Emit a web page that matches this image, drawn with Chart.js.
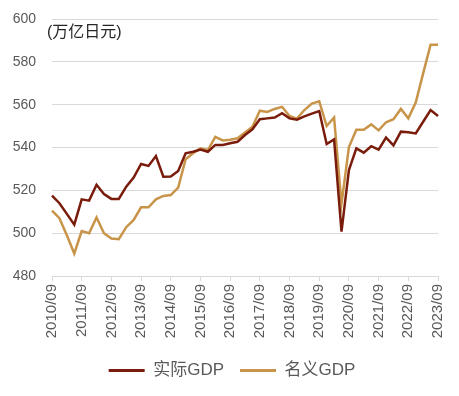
<!DOCTYPE html>
<html>
<head>
<meta charset="utf-8">
<script src="https://cdn.jsdelivr.net/npm/chart.js@4"></script>
<style>
  html, body { margin: 0; padding: 0; background: #fff; }
  #wrap { position: relative; width: 459px; height: 396px; }
</style>
</head>
<body>
<div id="wrap"><canvas id="gdp" width="459" height="396"></canvas></div>
<script>
const $ = sel => document.querySelector(sel);

/* ============ DATA ============== */
const quarters = [];
for (let y = 2010; y <= 2023; y++) {
  ["03", "06", "09", "12"].forEach(m => {
    const q = y + "/" + m;
    if (q >= "2010/09" && q <= "2023/09") quarters.push(q);
  });
}
const yTicks = [480, 500, 520, 540, 560, 580, 600];
const unitLabel = "(万亿日元)";

const realName = "实际GDP";
const realGdp = [
  517.5, 514, 509, 504, 515.8, 515.2, 522.6, 518.3, 516, 516,
  521.7, 526, 532.3, 531.4, 536, 526.4, 526.5, 529, 537.3, 538,
  539, 538, 541.2, 541.2, 542, 542.7, 545.8, 548.5, 553.2, 553.6,
  554, 556, 553.6, 553, 554.5, 555.8, 557, 541.6, 543.8, 500.7,
  529.5, 539.6, 537.6, 540.6, 539, 544.6, 541, 547.4, 547.1, 546.6,
  552, 557.5, 554.7
];

const nominalName = "名义GDP";
const nominalGdp = [
  510.5, 507, 499, 490.5, 501, 500, 507.3, 500, 497.5, 497.2,
  502.8, 506.2, 512.1, 512.1, 515.8, 517.4, 517.8, 521.3, 534.5, 537.3,
  539.6, 538.8, 545, 543.3, 543.6, 544.3, 547, 549.7, 557.2, 556.6,
  558, 559, 554.7, 553.5, 557.5, 560.5, 561.6, 550, 554, 513.7,
  540.2, 548.3, 548.3, 550.8, 548, 551.8, 553.2, 558, 553.6, 561,
  574.6, 588, 588
];

const realColor = "#7a1c0c";
const nominalColor = "#c8944a";
const textColor = "#595959";
const gridColor = "#d9d9d9";
const fontFamily = '"Liberation Sans", "Noto Sans CJK SC", sans-serif';

/* ============ UNIT LABEL + LEGEND NUDGE ============== */
const unitPlugin = {
  id: "unitLabel",
  afterLayout(chart){
    // legend sits a bit right of canvas centre in the original
    chart.legend.left += 13;
    chart.legend.right += 13;
  },
  afterDraw(chart){
    const {ctx, chartArea} = chart;
    ctx.save();
    ctx.font = "16px " + fontFamily;
    ctx.fillStyle = "#262626";
    ctx.textBaseline = "middle";
    ctx.fillText(unitLabel, chartArea.left - 5, chartArea.top + 14);
    ctx.restore();
  }
};

/* ============ CHART ============== */
function gdpChart(){
  new Chart($("#gdp"), {
    type: "line",
    data: {
      labels: quarters,
      datasets: [
        {label: realName, data: realGdp, borderColor: realColor, backgroundColor: realColor,
         borderWidth: 2.5, pointRadius: 0, tension: 0},
        {label: nominalName, data: nominalGdp, borderColor: nominalColor, backgroundColor: nominalColor,
         borderWidth: 2.5, pointRadius: 0, tension: 0}
      ]
    },
    options: {
      responsive: false,
      animation: false,
      layout: {padding: {left: 0, right: 21, top: 19, bottom: 7}},
      plugins: {
        legend: {
          position: "bottom",
          labels: {
            color: textColor,
            font: {size: 17, family: fontFamily},
            boxWidth: 36,
            boxHeight: 3,
            padding: 16,
            generateLabels: chart =>
              Chart.defaults.plugins.legend.labels.generateLabels(chart).map(l => ({...l, lineWidth: 0}))
          }
        },
        tooltip: {enabled: false}
      },
      scales: {
        x: {
          grid: {display: true, drawOnChartArea: false, drawTicks: true, tickLength: 5, color: gridColor},
          border: {display: true, color: gridColor, width: 1},
          ticks: {
            color: textColor,
            font: {size: 15, family: fontFamily},
            autoSkip: false,
            minRotation: 90,
            maxRotation: 90,
            padding: 3,
            callback: (v, i) => (i % 4 === 0 ? quarters[i] : null)
          },
          afterFit: s => { s.height = 70; }
        },
        y: {
          min: yTicks[0],
          max: yTicks[yTicks.length - 1],
          afterBuildTicks: s => { s.ticks = yTicks.map(v => ({value: v})); },
          grid: {color: gridColor, drawTicks: true, tickLength: 16, tickColor: "rgba(0,0,0,0)", lineWidth: 1},
          border: {display: false},
          ticks: {color: textColor, font: {size: 14, family: fontFamily}, padding: 0},
          afterFit: s => { s.width = 52; }
        }
      }
    },
    plugins: [unitPlugin]
  });
}
gdpChart();
</script>
</body>
</html>
